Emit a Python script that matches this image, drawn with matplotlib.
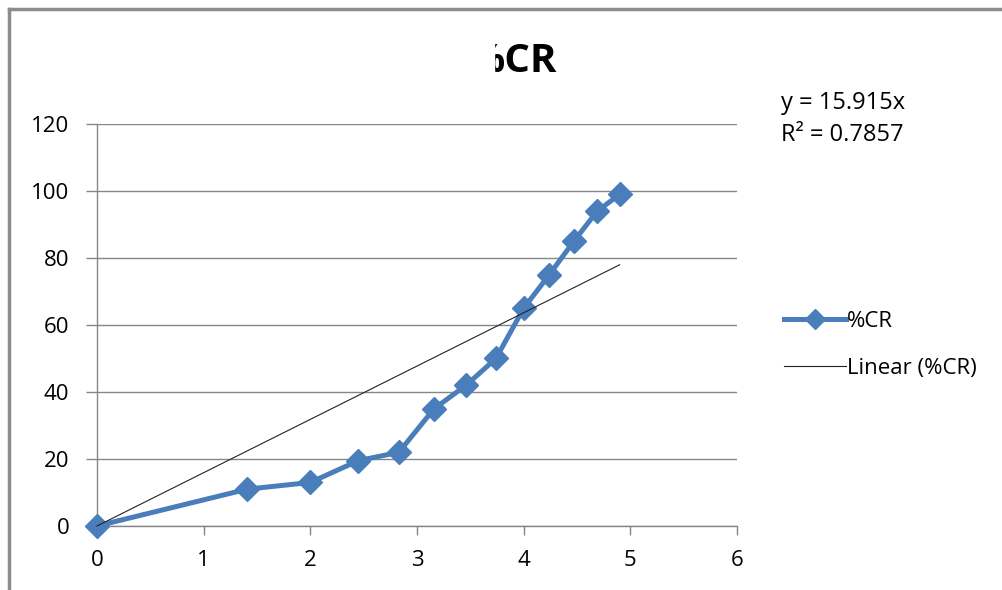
import matplotlib.pyplot as plt
from matplotlib.lines import Line2D
from matplotlib.patches import Rectangle
import numpy as np

plt.rcParams["font.family"] = ["Open Sans", "DejaVu Sans"]

# %CR measured against x
x = [0, 1.41, 2.0, 2.45, 2.83, 3.16, 3.46, 3.74, 4.0, 4.24, 4.47, 4.69, 4.90]
cr = [0, 11, 13, 19.5, 22, 35, 42, 50, 65, 75, 85, 94, 99]

# linear fit through the origin
slope = 15.915
r2 = 0.7857

blue = "#4A7EBB"
grey = "#868686"

fig = plt.figure(figsize=(10.03, 5.9), dpi=100)
ax = fig.add_axes([0.0967, 0.1085, 0.6381, 0.6813])

ax.plot(x, cr, color=blue, lw=3.6, marker="D", ms=12.5, label="%CR",
        zorder=3, clip_on=False)
xfit = np.array([0, x[-1]])
ax.plot(xfit, slope * xfit, color="#222222", lw=0.8, label="Linear (%CR)",
        zorder=4, clip_on=False)

ax.set_xlim(0, 6)
ax.set_ylim(0, 120)
ax.set_xticks(range(0, 7))
ax.set_yticks(range(0, 121, 20))
ax.yaxis.grid(True, color=grey, lw=1.0)
ax.set_axisbelow(True)
for s in ("top", "right"):
    ax.spines[s].set_visible(False)
for s in ("left", "bottom"):
    ax.spines[s].set_color(grey)
    ax.spines[s].set_linewidth(1.0)
ax.tick_params(axis="y", length=8, width=1.0, color=grey, pad=12, labelsize=16)
ax.tick_params(axis="x", length=6.5, width=1.0, color=grey, pad=11, labelsize=16)

# title, with the left part hidden
fig.text(557 / 1003, 1 - 61 / 590, "%CR", ha="right", va="center",
         fontsize=29, fontweight="bold")
fig.patches.append(Rectangle((0.3, 1 - 100 / 590), 494 / 1003 - 0.3, 80 / 590,
                             transform=fig.transFigure, color="white", zorder=5))

fig.text(781 / 1003, 1 - 103 / 590, f"y = {slope}x", ha="left", va="center",
         fontsize=17)
fig.text(781 / 1003, 1 - 135 / 590, f"R² = {r2}", ha="left", va="center",
         fontsize=17)

fig.legend(loc="center left", bbox_to_anchor=(764 / 1003, 1 - 345 / 590),
           frameon=False, fontsize=16, handlelength=2.8, handletextpad=0.05,
           labelspacing=1.15, markerscale=0.85)

# chart frame
fig.add_artist(Line2D([9 / 1003, 1002 / 1003], [1 - 9 / 590, 1 - 9 / 590],
                      transform=fig.transFigure, color="#8c8c8c", lw=2.5))
fig.add_artist(Line2D([9 / 1003, 9 / 1003], [1 - 9 / 590, 0],
                      transform=fig.transFigure, color="#8c8c8c", lw=2.5))

fig.savefig("out.png", dpi=100)
